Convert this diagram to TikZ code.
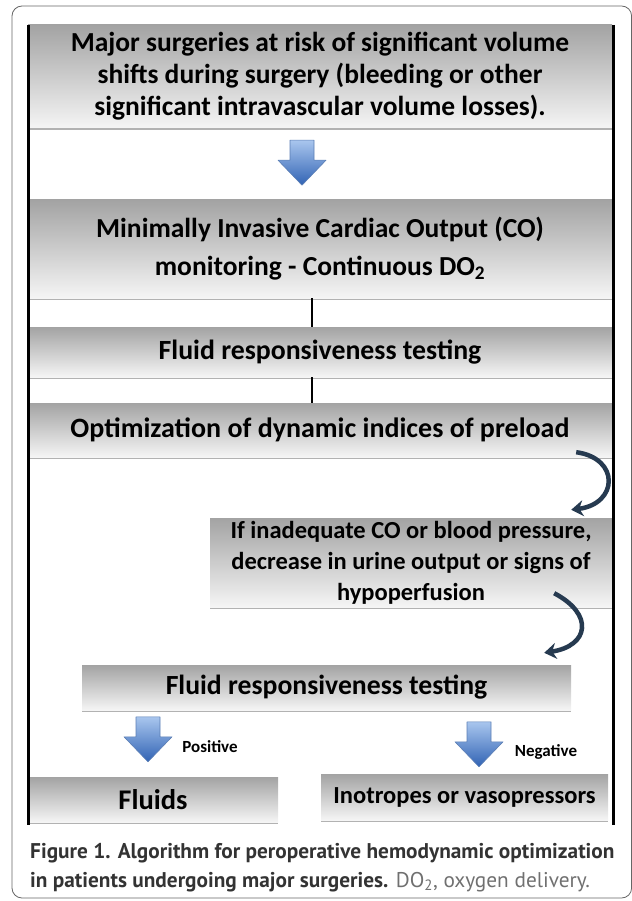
\documentclass[tikz,border=0pt]{standalone}
\usepackage{fontspec}
\setmainfont{Carlito}
\newfontfamily\capfont{PT Sans}
\usetikzlibrary{shapes,arrows.meta,shadows}
\definecolor{boxtop}{HTML}{A3A3A3}
\definecolor{boxbot}{HTML}{F5F5F5}
\definecolor{arrowtop}{HTML}{A9C6EE}
\definecolor{arrowbot}{HTML}{3163B4}
\definecolor{arrowline}{HTML}{5B7EB4}
\definecolor{curvecol}{HTML}{263A50}
\definecolor{captext}{HTML}{333333}
\definecolor{capgray}{HTML}{707070}
\tikzset{
  stepbox/.style = {rectangle, top color=boxtop, bottom color=boxbot,
                    inner sep=0pt, align=center,
                    drop shadow={shadow xshift=0pt, shadow yshift=-2pt,
                                 fill=gray!60, opacity=1}},
  bluearrow/.style = {draw=arrowline, line width=0.6pt, line join=round,
                      top color=arrowtop, bottom color=arrowbot},
  bendarrow/.style = {draw=curvecol, line width=4.5pt,
                      -{Stealth[length=12pt,width=16pt]}},
  linkline/.style  = {line width=2.5pt},
  sideline/.style  = {line width=3pt},
  frame/.style     = {draw=gray!80!black, line width=0.8pt, rounded corners=10pt},
  branch/.style    = {font=\bfseries\fontsize{17}{19}\selectfont, inner sep=0pt}
}
% block arrow pointing down, #1 is the top middle point
\newcommand{\blockarrow}[1]{
  \shadedraw[bluearrow] #1 ++(-12,0) -- ++(24,0) -- ++(0,20) -- ++(12,0)
    -- ++(-24,25) -- ++(-24,-25) -- ++(12,0) -- cycle;
}

\begin{document}
\begin{tikzpicture}[x=1pt,y=-1pt]
	\useasboundingbox (0,0) rectangle (631,901);
	\draw[frame] (12,6) rectangle (631.6,898);
	% main column
	\node[stepbox, minimum width=584pt, minimum height=103pt,
	      font=\bfseries\fontsize{27.5}{32}\selectfont] (surg) at (320,76.5)
	      {Major surgeries at risk of significant volume\\
	       shifts during surgery (bleeding or other\\
	       significant intravascular volume losses).};
	\node[stepbox, minimum width=584pt, minimum height=98pt,
	      font=\bfseries\fontsize{27.5}{38}\selectfont] (mon) at (320,249)
	      {Minimally Invasive Cardiac Output (CO)\\
	       monitoring - Continuous DO\textsubscript{2}};
	\node[stepbox, minimum width=584pt, minimum height=50pt,
	      font=\bfseries\fontsize{27.8}{30}\selectfont] (test) at (320,352)
	      {Fluid responsiveness testing};
	\node[stepbox, minimum width=584pt, minimum height=54pt,
	      font=\bfseries\fontsize{28}{30}\selectfont] (opt) at (320,430)
	      {Optimization of dynamic indices of preload};
	\node[stepbox, minimum width=402pt, minimum height=89pt,
	      font=\bfseries\fontsize{24.5}{31}\selectfont] (inad) at (411,562.5)
	      {If inadequate CO or blood pressure,\\
	       decrease in urine output or signs of\\
	       hypoperfusion};
	\node[stepbox, minimum width=489pt, minimum height=45pt,
	      font=\bfseries\fontsize{27.7}{30}\selectfont] (retest) at (326.5,687.5)
	      {Fluid responsiveness testing};
	\node[stepbox, minimum width=250pt, minimum height=45pt,
	      font=\bfseries\fontsize{28.5}{30}\selectfont] (fluids) at (153,799.5)
	      {Fluids};
	\node[stepbox, minimum width=287pt, minimum height=46pt,
	      font=\bfseries\fontsize{24.5}{28}\selectfont] (ino) at (464.5,797)
	      {Inotropes or vasopressors};
	% links
	\blockarrow{([xshift=-18pt,yshift=-12pt]surg.south)}
	\draw[linkline] ([xshift=-8pt]mon.south) -- ([xshift=-8pt]test.north);
	\draw[linkline] ([xshift=-8pt]test.south) -- ([xshift=-8pt]opt.north);
	\draw[bendarrow] ([xshift=-36pt,yshift=5pt]opt.south east)
	  .. controls ([xshift=8pt,yshift=-1pt]opt.south east)
	  and ([xshift=6pt,yshift=14pt]inad.north east)
	  .. ([xshift=-41pt,yshift=8pt]inad.north east);
	\draw[bendarrow] ([xshift=-58pt,yshift=14pt]inad.south east)
	  .. controls ([xshift=-18pt,yshift=-7pt]inad.south east)
	  and ([xshift=18pt,yshift=19pt]retest.north east)
	  .. ([xshift=-27pt,yshift=12pt]retest.north east);
	\blockarrow{([xshift=-5pt,yshift=60pt]fluids.north)}
	\blockarrow{([xshift=14.5pt,yshift=52pt]ino.north)}
	\node[branch] (pos) at (210,747) {Positive};
	\node[branch] (neg) at (546,752) {Negative};
	% side rules
	\draw[sideline] (28,25) -- (28,825);
	\draw[sideline] (613,25) -- (613,825);
	% caption
	\node[anchor=west, inner sep=0pt, text=captext,
	      font=\capfont\bfseries\fontsize{21.3}{24}\selectfont] (cap1) at (30,853)
	      {Figure 1. Algorithm for peroperative hemodynamic optimization};
	\node[anchor=west, inner sep=0pt, text=captext,
	      font=\capfont\fontsize{21.3}{24}\selectfont] (cap2) at (30,882)
	      {\textbf{in patients undergoing major surgeries.}
	       \textcolor{capgray}{DO\textsubscript{2}, oxygen delivery.}};
\end{tikzpicture}
\end{document}
